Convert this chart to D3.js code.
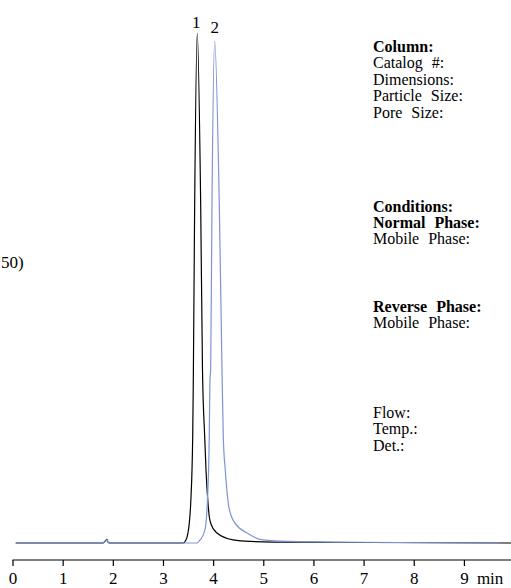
<!DOCTYPE html>
<html>
<head>
<meta charset="utf-8">
<script src="https://cdn.jsdelivr.net/npm/d3@7"></script>
<style>
body { margin: 0; background: #fff; }
svg { display: block; font-family: "Liberation Serif", "Times New Roman", serif; }
</style>
</head>
<body>
<script>
// x axis ticks (min)
var timeTicks = [0, 1, 2, 3, 4, 5, 6, 7, 8, 9];

// trace 1 (black) - time in min, signal in % of peak 1
var blackTime   = [0.064, 1.80, 1.86, 1.88, 1.91, 1.95, 3.40, 3.459, 3.499, 3.525, 3.553, 3.593, 3.605, 3.632, 3.684, 3.752, 3.788, 3.832, 3.858, 3.898, 3.923, 3.951, 4.071, 4.396, 4.735, 5.732, 9.94];
var blackSignal = [0, 0, 0.5, 0.7, 0.1, 0, 0, 0.6, 2.0, 3.9, 7.8, 20.8, 32, 66.3, 100, 66.3, 34, 20.8, 14.3, 7.8, 5.2, 3.9, 2.0, 0.6, 0.3, 0.15, 0];

// trace 2 (blue)
var blueTime   = [0.064, 1.80, 1.86, 1.88, 1.91, 1.95, 3.68, 3.738, 3.818, 3.858, 3.884, 3.923, 3.937, 3.951, 3.977, 4.031, 4.123, 4.177, 4.203, 4.242, 4.302, 4.370, 4.436, 4.669, 4.994, 5.532, 6.729, 9.72];
var blueSignal = [0, 0, 0.4, 0.6, 0.1, 0, 0, 0.6, 2.0, 3.9, 7.8, 20.8, 32, 34, 66.3, 98.4, 66.3, 34, 20.8, 14.3, 7.8, 5.1, 3.9, 2.0, 0.6, 0.3, 0.15, 0];

// peak labels
var peakNames = ["1", "2"];
var peakTimes = [3.684, 4.031];

// method text on the right
var methodText = ["Column:", "Catalog #:", "Dimensions:", "Particle Size:", "Pore Size:",
                  "Conditions:", "Normal Phase:", "Mobile Phase:",
                  "Reverse Phase:", "Mobile Phase:",
                  "Flow:", "Temp.:", "Det.:"];
var methodBold = [true, false, false, false, false, true, true, false, true, false, false, false, false];
var methodRow  = [0, 1, 2, 3, 4, 9.73, 10.73, 11.73, 15.85, 16.85, 22.3, 23.3, 24.3];

var w = 511;
var h = 588;

var svg = d3.select("body")
        .append("svg")
        .attr("width", w)
        .attr("height", h);

var x = d3.scaleLinear().domain([0, 9]).range([12.5, 463.9]);
var y = d3.scaleLinear().domain([0, 100]).range([543, 33]);

var line = d3.line()
    .x(function(d) { return x(d[0]); })
    .y(function(d) { return y(d[1]); })
    .curve(d3.curveMonotoneX);

var black = blackTime.map(function(t, i) { return [t, blackSignal[i]]; });
var blue = blueTime.map(function(t, i) { return [t, blueSignal[i]]; });

svg.append("path")
    .datum(black)
    .attr("d", line)
    .attr("fill", "none")
    .attr("stroke", "#000")
    .attr("stroke-width", 1.2);

svg.append("path")
    .datum(blue)
    .attr("d", line)
    .attr("fill", "none")
    .attr("stroke", "#7d95d4")
    .attr("stroke-width", 1.2);

// peak numbers
svg.selectAll("text.peak")
    .data(peakNames)
    .enter()
    .append("text")
    .attr("class", "peak")
    .attr("x", function(d, i) { return x(peakTimes[i]) + (i == 0 ? -1 : 0); })
    .attr("y", function(d, i) { return i == 0 ? 28 : 33; })
    .attr("text-anchor", "middle")
    .attr("font-size", 17)
    .text(function(d) { return d; });

// x axis
var axis = d3.axisBottom(x)
    .tickValues(timeTicks)
    .tickSize(6)
    .tickFormat(function(d) { return d; });

var gx = svg.append("g")
    .attr("transform", "translate(0,560)")
    .call(axis);
gx.select(".domain").remove();
gx.append("line")
    .attr("x1", x(0)).attr("x2", w)
    .attr("stroke", "#000")
    .attr("stroke-width", 1.2);
gx.selectAll(".tick line").attr("stroke", "#000").attr("stroke-width", 1.2);
gx.selectAll(".tick text")
    .attr("fill", "#000")
    .attr("font-family", "Liberation Serif")
    .attr("font-size", 17)
    .attr("dy", 0)
    .attr("y", 24);

svg.append("text")
    .attr("x", x(9) + 13)
    .attr("y", 584)
    .attr("font-size", 17)
    .text("min");

// solvent ratio, cut by the left edge in the original
svg.append("text")
    .attr("x", 1)
    .attr("y", 268)
    .attr("font-size", 17)
    .text("50)");

// method block
svg.selectAll("text.meth")
    .data(methodText)
    .enter()
    .append("text")
    .attr("class", "meth")
    .attr("x", 373)
    .attr("y", function(d, i) { return 52 + methodRow[i] * 16.4; })
    .attr("font-size", 16)
    .attr("font-weight", function(d, i) { return methodBold[i] ? "bold" : "normal"; })
    .attr("word-spacing", 5)
    .text(function(d) { return d; });
</script>
</body>
</html>
